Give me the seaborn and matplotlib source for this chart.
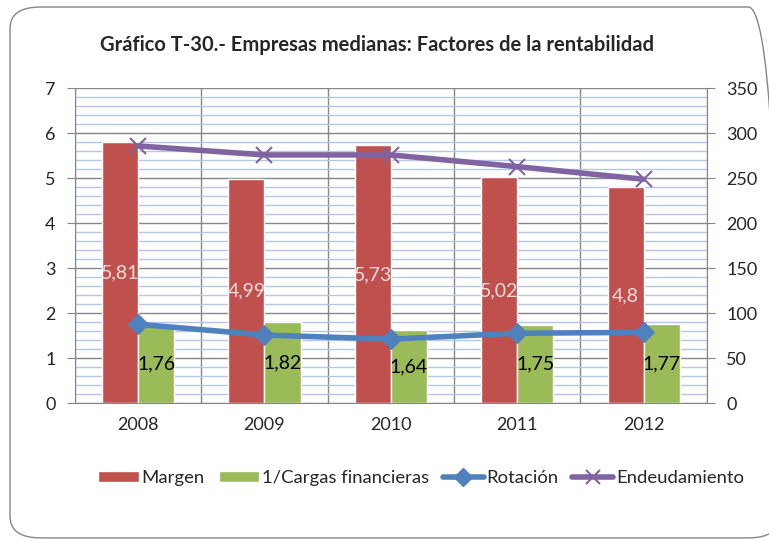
import matplotlib
matplotlib.use("Agg")
import matplotlib.pyplot as plt
from matplotlib.patches import FancyBboxPatch, Patch
from matplotlib.lines import Line2D
from matplotlib.ticker import MultipleLocator, FixedLocator
import seaborn as sns
import pandas as pd

# Data
years = ["2008", "2009", "2010", "2011", "2012"]
margen = [5.81, 4.99, 5.73, 5.02, 4.8]
cargas = [1.76, 1.82, 1.64, 1.75, 1.77]
rotacion = [1.76, 1.52, 1.43, 1.56, 1.58]
endeudamiento = [286, 276, 276, 263, 249]

RED = "#c0504d"
GREEN = "#9bbb59"
BLUE = "#4f81bd"
PURPLE = "#8064a2"

sns.set_style("white")
plt.rcParams["font.family"] = ["Lato", "DejaVu Sans"]

df = pd.DataFrame({
    "year": years * 2,
    "value": margen + cargas,
    "serie": ["Margen"] * 5 + ["1/Cargas financieras"] * 5,
})

fig = plt.figure(figsize=(7.69, 5.39), dpi=100)
ax = fig.add_axes([0.0975, 0.2514, 0.8215, 0.5848])

sns.barplot(data=df, x="year", y="value", hue="serie", palette=[RED, GREEN],
            width=0.57, gap=0, saturation=1, ax=ax, legend=False, zorder=2)

# data labels inside bars
for i, c in enumerate(ax.containers):
    vals = margen if i == 0 else cargas
    labels = [f"{v:g}".replace(".", ",") for v in vals]
    ax.bar_label(c, labels=labels, label_type="center",
                 color="#f2dcdb" if i == 0 else "black", fontsize=14)

sns.lineplot(x=list(range(5)), y=rotacion, ax=ax, color=BLUE, lw=4,
             marker="D", markersize=10, markeredgecolor=BLUE, zorder=4)

ax.set_ylim(0, 7)
ax.set_xlim(-0.5, 4.5)
ax.yaxis.set_major_locator(MultipleLocator(1))
ax.yaxis.set_minor_locator(MultipleLocator(0.2))
ax.xaxis.set_minor_locator(FixedLocator([-0.5, 0.5, 1.5, 2.5, 3.5, 4.5]))
ax.grid(which="major", axis="y", color="#868686", lw=1, zorder=0)
ax.grid(which="minor", axis="y", color="#b4c7e7", lw=1, zorder=0)
ax.grid(which="minor", axis="x", color="#868686", lw=1, zorder=0)
ax.set_axisbelow(True)
ax.tick_params(axis="x", which="major", length=0, pad=10, labelsize=13)
ax.tick_params(axis="x", which="minor", length=6, color="#868686", direction="out")
ax.tick_params(axis="y", which="major", length=6, color="#868686", labelsize=13, left=True, pad=8)
ax.tick_params(axis="y", which="minor", length=0)
ax.set_xlabel("")
ax.set_ylabel("")
for s in ["top", "right"]:
    ax.spines[s].set_visible(False)
for s in ["left", "bottom"]:
    ax.spines[s].set_color("#868686")

ax2 = ax.twinx()
sns.lineplot(x=list(range(5)), y=endeudamiento, ax=ax2, color=PURPLE, lw=4,
             marker="x", markersize=11, markeredgewidth=1.5, markeredgecolor=PURPLE)
ax2.set_ylim(0, 350)
ax2.yaxis.set_major_locator(MultipleLocator(50))
ax2.tick_params(axis="y", length=6, color="#868686", labelsize=13, pad=8)
ax2.set_ylabel("")
for s in ["top", "left", "bottom"]:
    ax2.spines[s].set_visible(False)
ax2.spines["right"].set_color("#868686")

fig.text(0.490, 0.917, "Gráfico T-30.- Empresas medianas: Factores de la rentabilidad",
         ha="center", va="center", fontsize=14.5, fontweight="bold")

handles = [
    Patch(facecolor=RED, label="Margen"),
    Patch(facecolor=GREEN, label="1/Cargas financieras"),
    Line2D([], [], color=BLUE, lw=4, marker="D", markersize=9, label="Rotación"),
    Line2D([], [], color=PURPLE, lw=4, marker="x", markersize=10,
           markeredgewidth=1.5, label="Endeudamiento"),
]
fig.legend(handles=handles, loc="center", bbox_to_anchor=(0.5475, 0.113), ncol=4,
           frameon=False, fontsize=13.3, handlelength=2.2, handletextpad=0.15,
           columnspacing=0.75, handleheight=0.6)

border = FancyBboxPatch((0.013, 0.002), 1.0, 0.985, transform=fig.transFigure,
                        boxstyle="round,pad=0,rounding_size=0.04",
                        facecolor="none", edgecolor="#868686", lw=1)
fig.patches.append(border)

fig.savefig("out.png", dpi=100)
